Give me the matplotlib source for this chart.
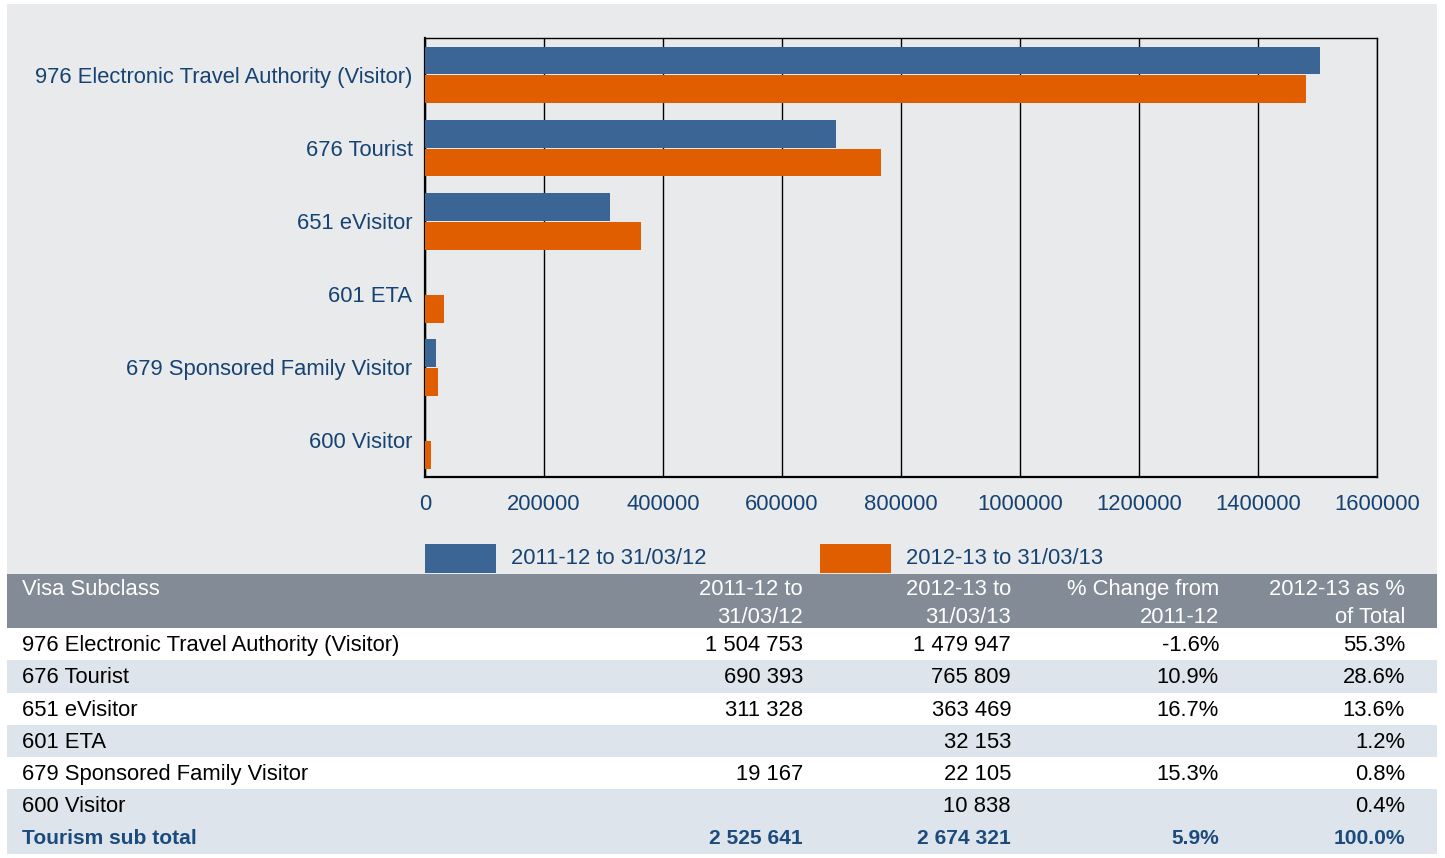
import matplotlib.pyplot as plt
from matplotlib.patches import Rectangle

subclasses = ['976 Electronic Travel Authority (Visitor)', '676 Tourist', '651 eVisitor',
              '601 ETA', '679 Sponsored Family Visitor', '600 Visitor']
grants_2011_12 = [1504753, 690393, 311328, None, 19167, None]
grants_2012_13 = [1479947, 765809, 363469, 32153, 22105, 10838]
pct_change = ['-1.6%', '10.9%', '16.7%', '', '15.3%', '']
pct_total = ['55.3%', '28.6%', '13.6%', '1.2%', '0.8%', '0.4%']
total_label = 'Tourism sub total'
total_2011_12 = 2525641
total_2012_13 = 2674321
total_change = '5.9%'
total_share = '100.0%'
series_names = ['2011-12 to 31/03/12', '2012-13 to 31/03/13']
xticks = [0, 200000, 400000, 600000, 800000, 1000000, 1200000, 1400000, 1600000]

blue = '#3A6595'
orange = '#E05E00'
panel = '#E9EAEC'
header = '#838C96'
stripe = '#DEE4EB'
label_col = '#164372'
total_col = '#1B4B7D'
fs = 15.8

plt.rcParams['font.family'] = ['Liberation Sans', 'DejaVu Sans']

W, H = 1445, 858
fig = plt.figure(figsize=(W / 100, H / 100), dpi=100)
fig.patch.set_facecolor('white')

# background / table layer in pixel coordinates
bg = fig.add_axes([0, 0, 1, 1], zorder=0)
bg.set_xlim(0, W)
bg.set_ylim(H, 0)
bg.axis('off')
bg.add_patch(Rectangle((7, 4), 1430, 570, color=panel, lw=0))
bg.add_patch(Rectangle((7, 574), 1430, 54, color=header, lw=0))

# bar chart
ax = fig.add_axes([425 / W, 1 - 477 / H, (1377 - 425) / W, (477 - 38) / H], zorder=1)
ax.set_facecolor(panel)
pos = list(range(len(subclasses)))
h = 0.38
v1 = [v if v is not None else 0 for v in grants_2011_12]
ax.barh([p - h / 2 - 0.002 for p in pos], v1, height=h, color=blue, zorder=3)
ax.barh([p + h / 2 + 0.012 for p in pos], grants_2012_13, height=h, color=orange, zorder=3)
ax.set_ylim(len(subclasses) - 0.5, -0.5)
ax.set_xlim(0, 1600000)
ax.set_xticks(xticks)
ax.set_xticklabels([str(t) for t in xticks])
ax.set_yticks(pos)
ax.set_yticklabels(subclasses)
ax.tick_params(axis='y', length=0, pad=9, labelsize=fs, labelcolor=label_col)
ax.tick_params(axis='x', length=0, pad=12, labelsize=fs, labelcolor=label_col)
ax.grid(axis='x', color='black', lw=1, zorder=1)
for s in ax.spines.values():
    s.set_color('black')
    s.set_linewidth(1)
ax.spines['left'].set_linewidth(1.6)
ax.spines['bottom'].set_linewidth(1.6)

# legend
for x, c, name in zip([425, 820], [blue, orange], series_names):
    bg.add_patch(Rectangle((x, 544), 71, 29, color=c, lw=0))
    bg.text(x + 86, 559, name, color=label_col, fontsize=fs, va='center', ha='left')

# table
col_x = [803, 1011, 1219, 1405]
heads = [('2011-12 to', '31/03/12'), ('2012-13 to', '31/03/13'),
         ('% Change from', '2011-12'), ('2012-13 as %', 'of Total')]
bg.text(22, 589.5, 'Visa Subclass', color='white', fontsize=fs, va='center', ha='left')
for x, (l1, l2) in zip(col_x, heads):
    bg.text(x, 589.5, l1, color='white', fontsize=fs, va='center', ha='right')
    bg.text(x, 617.5, l2, color='white', fontsize=fs, va='center', ha='right')


def fmt(v):
    return '' if v is None else f'{v:,}'.replace(',', ' ')


row_top = 628
row_h = 32.2
rows = list(zip(subclasses, grants_2011_12, grants_2012_13, pct_change, pct_total))
rows.append((total_label, total_2011_12, total_2012_13, total_change, total_share))
for i, (name, a, b, c, d) in enumerate(rows):
    y0 = row_top + i * row_h
    if i % 2 == 1 or i == len(rows) - 1:
        bg.add_patch(Rectangle((7, y0), 1430, row_h + 0.5, color=stripe, lw=0))
    yc = y0 + row_h / 2 + 1.5
    bold = i == len(rows) - 1
    kw = dict(fontsize=15.1 if bold else fs, va='center', color=total_col if bold else 'black',
              fontweight='bold' if bold else 'normal')
    bg.text(22, yc, name, ha='left', **kw)
    for x, val in zip(col_x, [fmt(a), fmt(b), c, d]):
        bg.text(x, yc, val, ha='right', **kw)

fig.savefig('out.png', dpi=100, facecolor='white')
